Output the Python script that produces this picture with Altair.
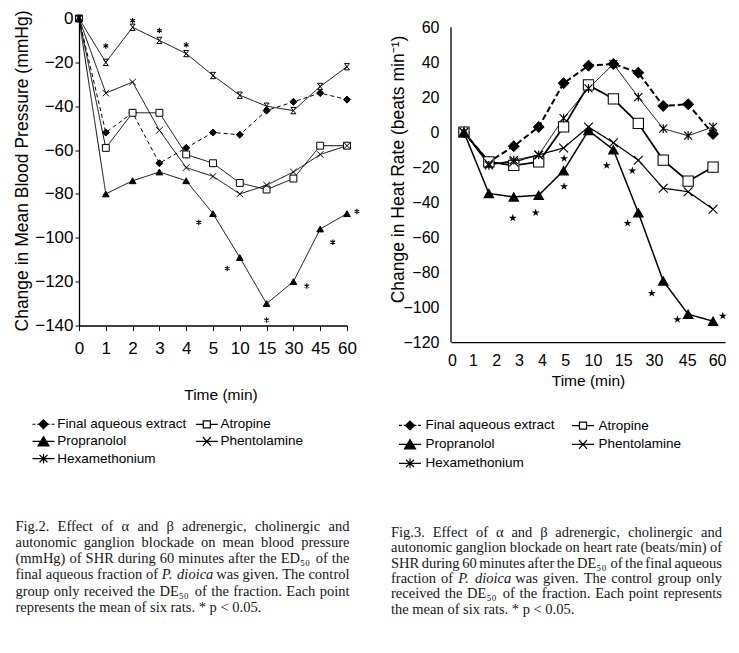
import json
import altair as alt
import pandas as pd

# ---------------- data ----------------
times = ["0", "1", "2", "3", "4", "5", "10", "15", "30", "45", "60"]
series = ["Final aqueous extract", "Atropine", "Propranolol", "Phentolamine", "Hexamethonium"]

# Fig. 2 - change in mean blood pressure (mmHg)
bp_extract = [0, -52, -43, -66, -59, -52, -53, -42, -38, -34, -37]
bp_atropine = [0, -59, -43, -43, -62, -66, -75, -78, -73, -58, -58]
bp_propranolol = [0, -80, -74, -70, -74, -89, -109, -130, -120, -96, -89]
bp_phentolamine = [0, -34, -29, -51, -68, -72, -80, -76, -70, -62, -58]
bp_hexamethonium = [0, -20, -4, -10, -16, -26, -35, -40, -42, -31, -22]
bp_star_pos = [1, 2, 3, 4, 4.47, 5.53, 7, 8.5, 9.47, 10.37]
bp_star_val = [-12.5, -1, -5.5, -12, -93, -114, -137.5, -122, -102, -88]

# Fig. 3 - change in heart rate (beats/min)
hr_extract = [0, -17, -8, 3, 28, 38, 39, 34, 15, 16, -1]
hr_atropine = [0, -17, -19, -17, 3, 27, 19, 5, -16, -28, -20]
hr_propranolol = [0, -35, -37, -36, -22, 1, -10, -46, -85, -104, -108]
hr_phentolamine = [0, -18, -17, -13, -9, 3, -6, -16, -32, -34, -44]
hr_hexamethonium = [0, -19, -16, -13, 8, 25, 39, 20, 2, -2, 3]
hr_star_pos = [1.96, 2.88, 4.02, 4.02, 5.73, 6.76, 6.57, 7.54, 8.57, 10.39]
hr_star_val = [-49, -46, -31, -15, -19, -22, -52, -92, -107, -105]
hr_label_pos = [-0.48, 0.36, 1.29, 2.21, 3.13, 4.06, 5.18, 6.39, 7.63, 8.96, 10.16]

# captions (words starting with "_" are set in italics)
cap2 = [
    "Fig.2. Effect of \u03b1 and \u03b2 adrenergic, cholinergic and",
    "autonomic ganglion blockade on mean blood pressure",
    "(mmHg) of SHR during 60 minutes after the ED\u2085\u2080 of the",
    "final aqueous fraction of _P. _dioica was given. The control",
    "group only received the DE\u2085\u2080 of the fraction. Each point",
    "represents the mean of six rats. * p < 0.05.",
]
cap3 = [
    "Fig.3. Effect of \u03b1 and \u03b2 adrenergic, cholinergic and",
    "autonomic ganglion blockade on heart rate (beats/min) of",
    "SHR during 60 minutes after the DE\u2085\u2080 of the final aqueous",
    "fraction of _P. _dioica was given. The control group only",
    "received the DE\u2085\u2080 of the fraction. Each point represents",
    "the mean of six rats. * p < 0.05.",
]

# ---------------- styling ----------------
SANS = "Liberation Sans, Arial, Helvetica, sans-serif"
SERIF = "Liberation Serif, Times New Roman, serif"
CAP_SIZE = 14.5

X_PATH = "M-1,-1L1,1M-1,1L1,-1"
HEX_PATH_L = "M-0.8,-1H0.8M-0.8,1H0.8M-0.8,-1L0.8,1M0.8,-1L-0.8,1"
HEX_PATH_R = "M-1,-1L1,1M-1,1L1,-1M0,-1.1V1.1"
AST_PATH = "M0,-1V1M-0.866,-0.5L0.866,0.5M-0.866,0.5L0.866,-0.5"
STAR_PATH = ("M0,-1L0.225,-0.309L0.951,-0.309L0.363,0.118L0.588,0.809L0,0.382"
             "L-0.588,0.809L-0.363,0.118L-0.951,-0.309L-0.225,-0.309Z")

LEG_PATHS = [
    "M-1.375,0H-1.0M-0.8,0H-0.56M-0.56,0L0,-0.56L0.56,0L0,0.56ZM0.56,0H0.8M1.0,0H1.375",
    "M-1.375,0H-0.44M0.44,0H1.375M-0.44,-0.44H0.44V0.44H-0.44Z",
    "M-1.375,0H1.375M0,-0.6L0.69,0.55H-0.69Z",
    "M-1.375,0H1.375M-0.5,-0.55L0.5,0.55M-0.5,0.55L0.5,-0.55",
    "M-1.375,0H1.375M-0.5,-0.45L0.5,0.45M-0.5,0.45L0.5,-0.45M0,-0.6V0.6",
]
LEG_FILL = ["black", "white", "black", "black", "black"]
one_row = pd.DataFrame({"k": [0]})

# Times-Roman advance widths (1/1000 em) for justified caption layout
_TW = {" ": 250, "!": 333, "(": 333, ")": 333, "*": 500, ",": 250, "-": 333, ".": 250,
       "/": 278, ":": 278, "<": 564, "A": 722, "B": 667, "C": 667, "D": 722, "E": 611,
       "F": 556, "G": 722, "H": 722, "I": 333, "M": 889, "P": 556, "R": 667, "S": 556,
       "T": 611, "a": 444, "b": 500, "c": 444, "d": 500, "e": 444, "f": 333, "g": 500,
       "h": 500, "i": 278, "j": 278, "k": 500, "l": 278, "m": 778, "n": 500, "o": 500,
       "p": 500, "q": 500, "r": 333, "s": 389, "t": 278, "u": 500, "v": 500, "w": 722,
       "x": 500, "y": 500, "z": 444, "\u03b1": 530, "\u03b2": 500, "\u2085": 400, "\u2080": 400}


def tw(s):
    return sum(_TW.get(c, 500) for c in s) / 1000.0 * CAP_SIZE


def text_layer(txt, x, y, style="normal", align="left"):
    return alt.Chart(one_row).mark_text(
        align=align, baseline="alphabetic", font=SERIF, fontSize=CAP_SIZE,
        fontStyle=style, color="#151515"
    ).encode(x=alt.value(x), y=alt.value(y), text=alt.value(txt))


def caption_layers(lines, x0, width, y0, lh):
    out = []
    for i, ln in enumerate(lines):
        y = y0 + i * lh
        words = ln.split(" ")
        styles = ["italic" if w.startswith("_") else "normal" for w in words]
        words = [w.lstrip("_") for w in words]
        widths = [tw(w) for w in words]
        last = i == len(lines) - 1
        gap = tw(" ") if last else (width - sum(widths)) / (len(words) - 1)
        x = x0
        for j, (w, st) in enumerate(zip(words, styles)):
            if not last and j == len(words) - 1:
                out.append(text_layer(w, x0 + width, y, st, align="right"))
            else:
                out.append(text_layer(w, x, y, st))
            x += widths[j] + gap
    return out


def make_legend(lx, ly, row_pad, col_pad, lab_off):
    return alt.Legend(
        title=None, orient="none", legendX=lx, legendY=ly, columns=2, direction="horizontal",
        columnPadding=col_pad, rowPadding=row_pad, symbolSize=256,
        symbolStrokeWidth=1.2, symbolStrokeColor="black", symbolOpacity=1,
        labelFont=SANS, labelFontSize=13.5, labelColor="black",
        labelOffset=lab_off, labelLimit=400, padding=0, symbolOffset=0,
    )


def panel(df, stars, xs, ys, xaxis, yaxis, width, height, shapes, sizes, pt_sw,
          line_dash, line_w, star_shape, star_size, star_filled, legend, caption, rule=None):
    X = alt.X("pos:Q", scale=xs, axis=xaxis)
    Y = alt.Y("value:Q", scale=ys, axis=yaxis)
    base = alt.Chart(df)
    lines = base.mark_line(color="black").encode(
        x=X, y=Y, detail="series:N",
        strokeDash=alt.StrokeDash("series:N", scale=alt.Scale(domain=series, range=line_dash), legend=None),
        strokeWidth=alt.StrokeWidth("series:N", scale=alt.Scale(domain=series, range=line_w), legend=None),
    )
    pts = base.mark_point(filled=False, color="black", opacity=1).encode(
        x=X, y=Y,
        shape=alt.Shape("series:N", scale=alt.Scale(domain=series, range=shapes), legend=None),
        fill=alt.Fill("series:N", scale=alt.Scale(domain=series, range=LEG_FILL), legend=None),
        size=alt.Size("series:N", scale=alt.Scale(domain=series, range=sizes), legend=None),
        strokeWidth=alt.StrokeWidth("series:N", scale=alt.Scale(domain=series, range=pt_sw), legend=None),
    )
    st = alt.Chart(stars).mark_point(
        shape=star_shape, size=star_size, filled=star_filled, color="black",
        strokeWidth=1.1, opacity=1
    ).encode(x=X, y=Y)
    leg = base.mark_point(color="black").encode(
        x=X, y=Y,
        shape=alt.Shape("series:N", scale=alt.Scale(domain=series, range=LEG_PATHS), legend=legend),
        fill=alt.Fill("series:N", scale=alt.Scale(domain=series, range=LEG_FILL), legend=legend),
        stroke=alt.Stroke("series:N", scale=alt.Scale(domain=series, range=["black"] * 5), legend=legend),
    ).transform_filter("false")
    layers = [lines, pts, st, leg] + caption
    if rule is not None:
        layers.append(alt.Chart(rule).mark_rule(color="black", strokeWidth=1.3).encode(
            x=alt.value(0), y=Y, y2="value2:Q"))
    return alt.layer(*layers).resolve_scale(
        shape="independent", fill="independent", size="independent",
        strokeWidth="independent", strokeDash="independent", stroke="independent"
    ).properties(width=width, height=height)


def axis_common(**kw):
    d = dict(grid=False, domainColor="black", domainWidth=1.3, tickColor="black",
             labelColor="black", titleColor="black", titleFont=SANS,
             titleFontWeight="normal", labelFlush=False, labelOverlap=False,
             titleAlign="center")
    d.update(kw)
    return alt.Axis(**d)


def long_table(cols):
    rows = []
    for name, vals in zip(series, cols):
        for i, v in enumerate(vals):
            rows.append({"series": name, "pos": i, "time": times[i], "value": v})
    return pd.DataFrame(rows)


# ---------------- left panel (Fig. 2) ----------------
bp_df = long_table([bp_extract, bp_atropine, bp_propranolol, bp_phentolamine, bp_hexamethonium])
bp_stars = pd.DataFrame({"pos": bp_star_pos, "value": bp_star_val})
left_xaxis = axis_common(
    values=list(range(len(times))), labelExpr=f"{json.dumps(times)}[datum.value]",
    title="Time (min)", tickSize=5, tickWidth=1, labelPadding=10.4, labelFont=SANS,
    labelFontSize=17, labelAngle=0, titleFontSize=15.5, titleX=141.5, titlePadding=30.8)
left_yaxis = axis_common(
    values=list(range(-140, 1, 20)), title="Change in Mean Blood Pressure (mmHg)",
    tickSize=4, labelPadding=2, labelFont=SANS, labelFontSize=17,
    titleFontSize=17.5, titleX=-56.5, titleY=152, titleAngle=270, titleBaseline="middle")
left = panel(
    bp_df, bp_stars,
    alt.Scale(domain=[0, 10], nice=False, zero=False),
    alt.Scale(domain=[-140, 0], nice=False, zero=False),
    left_xaxis, left_yaxis, 268, 307,
    ["diamond", "square", "triangle-up", X_PATH, HEX_PATH_L],
    [50, 40, 60, 36, 40], [1, 1, 1, 1, 1],
    [[4, 3], [1, 0], [1, 0], [1, 0], [1, 0]], [1, 1, 1, 1, 1],
    AST_PATH, 30, False,
    make_legend(-44.5, 396.7, 1.2, 6.3, 4.7),
    caption_layers(cap2, -63.5, 334, 512, 16.3),
)

# ---------------- right panel (Fig. 3) ----------------
hr_df = long_table([hr_extract, hr_atropine, hr_propranolol, hr_phentolamine, hr_hexamethonium])
hr_stars = pd.DataFrame({"pos": hr_star_pos, "value": hr_star_val})
hr_axis_line = pd.DataFrame({"value": [60], "value2": [-120]})
right_xaxis = axis_common(
    values=hr_label_pos,
    labelExpr=f"{json.dumps(times)}[indexof({json.dumps(hr_label_pos)}, datum.value)]",
    title="Time (min)", ticks=False, tickSize=0, labelPadding=10.4, labelFont=SANS,
    labelFontSize=16, labelAngle=0, titleFontSize=15.5, titleX=137, titlePadding=4.9)
right_yaxis = axis_common(
    values=list(range(-120, 61, 20)), title="Change in Heat Rate (beats min\u207b\u00b9)",
    domain=False, ticks=False, tickSize=0, labelPadding=12, labelFont=SANS,
    labelFontSize=16, titleFontSize=17.5, titleX=-53, titleY=150.5, titleAngle=270,
    titleBaseline="middle")
right = panel(
    hr_df, hr_stars,
    alt.Scale(domain=[-0.52, 10.48], nice=False, zero=False),
    alt.Scale(domain=[-120, 64.97], nice=False, zero=False),
    right_xaxis, right_yaxis, 274, 323.7,
    ["diamond", "square", "triangle-up", X_PATH, HEX_PATH_R],
    [120, 64, 120, 70, 80], [1, 1.2, 1, 2.2, 1],
    [[6, 3], [1, 0], [1, 0], [1, 0], [1, 0]], [2, 1, 1, 1, 1],
    STAR_PATH, 70, True,
    make_legend(-50, 397.9, 3, 14, 6.5),
    caption_layers(cap3, -60, 331, 518.5, 15.3),
    rule=hr_axis_line,
)

chart = alt.hconcat(left, right, spacing=26).resolve_scale(
    x="independent", y="independent", shape="independent", fill="independent",
    size="independent", strokeWidth="independent", strokeDash="independent",
    stroke="independent"
).resolve_legend(shape="independent", fill="independent", stroke="independent").properties(
    padding={"left": 5, "top": 1.5, "right": 0, "bottom": 4},
    background="white",
).configure_view(stroke=None)

chart.save("out.html", embed_options={"renderer": "svg", "actions": False})
